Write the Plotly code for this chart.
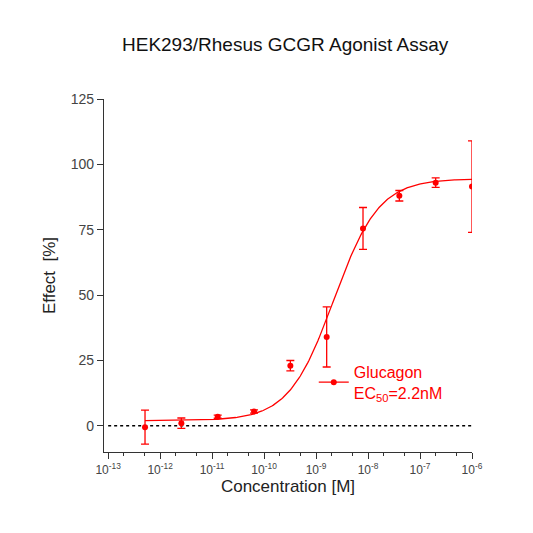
import numpy as np
import plotly.graph_objects as go

conc = [5.12e-13, 2.56e-12, 1.28e-11, 6.4e-11, 3.2e-10, 1.6e-9, 8e-9, 4e-8, 2e-7, 1e-6]
effect = [-0.5, 1.0, 3.5, 5.5, 23.0, 34.0, 75.5, 88.0, 93.0, 91.5]
err = [6.5, 2.0, 0.6, 0.6, 2.0, 11.5, 8.0, 2.0, 1.8, 17.5]
bottom, top, ec50, hill = 2.0, 94.5, 2.2e-9, 1.0
tickvals = [10.0**k for k in range(-13, -5)]
ticktext = [f"10<sup>{k}</sup>" for k in range(-13, -5)]

xc = np.logspace(np.log10(conc[0]), -6, 300)
yc = bottom + (top - bottom) / (1 + (ec50 / xc) ** hill)
red = "#ff0000"
fig = go.Figure()
fig.add_trace(go.Scatter(x=[1e-13, 1e-6], y=[0, 0], mode="lines",
                         line=dict(color="black", dash="dot", width=1.5), showlegend=False, hoverinfo="skip"))
fig.add_trace(go.Scatter(x=xc, y=yc, mode="lines", line=dict(color=red, width=1.3), showlegend=False))
fig.add_trace(go.Scatter(x=conc, y=effect, mode="markers", showlegend=False,
                         marker=dict(color=red, size=6),
                         error_y=dict(type="data", array=err, color=red, thickness=1.3, width=4)))
fig.add_trace(go.Scatter(x=[None], y=[None], mode="lines+markers", name="Glucagon<br>EC<sub>50</sub>=2.2nM",
                         line=dict(color=red, width=1.3), marker=dict(color=red, size=6)))
fig.update_layout(
    width=533, height=533, margin=dict(l=96, r=69, t=91, b=89),
    paper_bgcolor="white", plot_bgcolor="white",
    font=dict(family="Liberation Sans, Arial", size=14, color="#222"),
    title=dict(text="HEK293/Rhesus GCGR Agonist Assay", x=0.52, xanchor="center", y=0.945,
               font=dict(size=19, color="#111")),
    xaxis=dict(type="log", range=[-13.08, -6], tickvals=tickvals, ticktext=ticktext,
               showgrid=False, zeroline=False, showline=True, linecolor="#333", linewidth=1.3,
               ticks="outside", ticklen=6, tickcolor="#333",
               minor=dict(ticks="outside", ticklen=3, tickcolor="#333", showgrid=False),
               title=dict(text="Concentration [M]", standoff=4), tickfont=dict(size=12, color="#444")),
    yaxis=dict(range=[-10, 125], tickvals=[0, 25, 50, 75, 100, 125], showgrid=False, zeroline=False,
               showline=True, linecolor="#333", linewidth=1.3, ticks="outside", ticklen=6, tickcolor="#333",
               title=dict(text="Effect  [%]", standoff=10), tickfont=dict(size=14, color="#444")),
    legend=dict(x=0.57, y=0.275, xanchor="left", yanchor="top", font=dict(size=16, color=red),
                bgcolor="rgba(0,0,0,0)"),
)
fig.write_html("out.html")
